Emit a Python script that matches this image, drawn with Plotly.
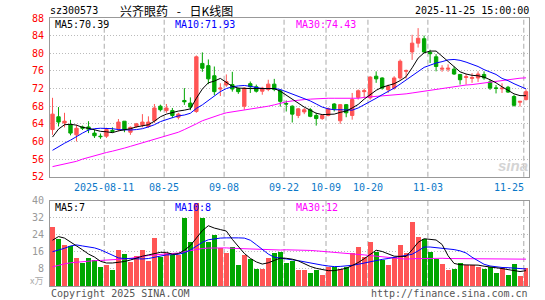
import plotly.graph_objects as go

# ---------------- data ----------------
dates = [
    "2025-07-29", "2025-07-30", "2025-07-31",
    "2025-08-01", "2025-08-04", "2025-08-05", "2025-08-06", "2025-08-07", "2025-08-08",
    "2025-08-11", "2025-08-12", "2025-08-13", "2025-08-14", "2025-08-15",
    "2025-08-18", "2025-08-19", "2025-08-20", "2025-08-21", "2025-08-22",
    "2025-08-25", "2025-08-26", "2025-08-27", "2025-08-28", "2025-08-29",
    "2025-09-01", "2025-09-02", "2025-09-03", "2025-09-04", "2025-09-05",
    "2025-09-08", "2025-09-09", "2025-09-10", "2025-09-11", "2025-09-12",
    "2025-09-15", "2025-09-16", "2025-09-17", "2025-09-18", "2025-09-19",
    "2025-09-22", "2025-09-23", "2025-09-24", "2025-09-25", "2025-09-26",
    "2025-09-29", "2025-09-30",
    "2025-10-09", "2025-10-10", "2025-10-13", "2025-10-14", "2025-10-15", "2025-10-16", "2025-10-17",
    "2025-10-20", "2025-10-21", "2025-10-22", "2025-10-23", "2025-10-24",
    "2025-10-27", "2025-10-28", "2025-10-29", "2025-10-30", "2025-10-31",
    "2025-11-03", "2025-11-04", "2025-11-05", "2025-11-06", "2025-11-07",
    "2025-11-10", "2025-11-11", "2025-11-12", "2025-11-13", "2025-11-14",
    "2025-11-17", "2025-11-18", "2025-11-19", "2025-11-20", "2025-11-21",
    "2025-11-24", "2025-11-25",
]

open_ = [62.7, 65.6, 64.2, 63.8, 61.5, 63.3, 63.3, 61.9, 61.2, 61.2,
         62.5, 62.9, 64.6, 62.1, 63.4, 63.7, 63.4, 64.7, 68.0, 67.0,
         67.0, 65.5, 69.3, 68.7, 66.8, 77.7, 77.2, 74.9, 71.9, 72.8,
         72.9, 72.0, 68.0, 73.1, 72.4, 71.4, 71.8, 73.0, 71.5, 68.6,
         68.0, 65.9, 66.7, 67.2, 65.9, 65.2, 65.9, 68.5, 64.7, 68.35,
         65.9, 70.0, 71.3, 69.9, 74.8, 74.4, 71.75, 72.1, 74.4, 75.9,
         80.3, 82.3, 83.3, 80.2, 79.2, 76.4, 76.4, 76.4, 75.2, 74.5,
         74.3, 74.4, 75.2, 73.5, 72.15, 71.95, 72.3, 70.2, 68.9, 69.5]
high = [69.9, 67.8, 66.5, 64.9, 63.8, 63.6, 64.6, 62.7, 61.8, 63.1,
        63.2, 65.1, 64.6, 63.4, 64.2, 66.2, 65.7, 68.5, 68.35, 68.5,
        67.6, 66.5, 72.1, 70.0, 79.5, 80.2, 78.6, 77.0, 73.2, 75.2,
        75.8, 72.2, 72.3, 73.6, 72.9, 72.4, 74.0, 74.2, 71.8, 69.3,
        68.2, 67.6, 67.6, 67.6, 66.5, 66.1, 67.7, 68.7, 68.5, 68.5,
        71.0, 71.8, 72.0, 74.8, 75.9, 74.55, 72.9, 74.8, 78.6, 76.3,
        84.2, 85.7, 84.0, 80.8, 79.8, 77.3, 77.5, 77.0, 75.3, 75.3,
        75.5, 75.9, 75.9, 74.0, 72.8, 73.2, 72.6, 70.6, 69.2, 71.8]
low = [61.5, 63.4, 63.2, 61.4, 60.0, 62.6, 61.9, 60.8, 60.6, 60.8,
       62.0, 62.3, 62.1, 61.5, 63.1, 63.2, 63.1, 64.2, 66.8, 66.5,
       65.3, 65.0, 68.3, 67.1, 66.5, 75.8, 73.0, 70.5, 70.3, 72.4,
       71.3, 70.8, 67.2, 71.0, 71.1, 70.6, 71.4, 71.4, 67.9, 66.8,
       64.3, 65.3, 66.2, 65.5, 63.6, 64.9, 65.7, 66.8, 64.0, 65.5,
       64.95, 69.5, 69.9, 69.5, 73.3, 71.75, 71.0, 71.75, 74.0, 74.25,
       78.5, 81.3, 80.0, 77.8, 75.9, 75.8, 75.8, 75.1, 72.9, 72.9,
       73.3, 73.5, 74.0, 71.7, 70.9, 71.0, 71.0, 67.9, 67.9, 69.3]
close = [66.2, 64.4, 64.6, 61.9, 63.0, 63.0, 62.8, 61.3, 61.1, 62.7,
         62.3, 64.4, 62.7, 63.2, 64.0, 64.4, 64.4, 67.6, 67.2, 67.6,
         65.9, 66.2, 69.0, 67.8, 79.2, 76.6, 74.2, 71.3, 72.1, 73.6,
         71.9, 71.3, 72.1, 72.4, 71.4, 72.1, 73.0, 71.8, 69.1, 68.5,
         66.2, 67.4, 67.2, 65.7, 65.2, 65.9, 67.4, 67.4, 68.35, 66.5,
         69.5, 71.5, 71.5, 74.6, 74.2, 72.1, 72.5, 74.4, 78.2, 76.1,
         82.3, 83.4, 80.3, 79.9, 77.0, 76.6, 76.6, 75.3, 74.0, 74.7,
         74.5, 75.3, 74.4, 72.1, 72.05, 72.1, 71.2, 68.2, 69.1, 71.3]

ma5 = [61.0, 62.8, 63.8, 63.9, 63.7, 63.2, 63.0, 62.6, 62.3, 62.2,
       62.0, 62.4, 62.6, 62.9, 63.3, 63.6, 63.8, 64.6, 65.6, 66.2,
       66.6, 66.9, 67.1, 67.4, 69.8, 71.9, 73.3, 73.7, 74.3, 73.4,
       72.5, 72.1, 72.0, 72.0, 72.0, 72.0, 72.1, 72.0, 71.4, 70.5,
       69.6, 68.6, 67.8, 67.1, 66.4, 66.1, 66.1, 66.2, 66.6, 66.9,
       67.6, 68.4, 69.6, 70.6, 71.6, 72.3, 72.7, 73.1, 73.8, 74.7,
       76.7, 78.9, 80.1, 80.5, 80.5, 79.3, 78.0, 76.8, 75.8, 75.3,
       75.0, 74.9, 74.6, 74.0, 73.3, 72.4, 71.6, 70.8, 70.4, 70.39]
ma10 = [58.0, 58.9, 59.6, 60.3, 61.2, 61.9, 62.6, 62.9, 63.0, 63.0,
        62.9, 62.7, 62.6, 62.6, 62.7, 62.9, 63.3, 63.8, 64.5, 65.0,
        65.4, 65.8, 66.0, 66.4, 67.5, 68.3, 69.3, 70.4, 71.3, 72.0,
        72.4, 72.6, 72.7, 72.5, 72.3, 72.0, 72.0, 72.0, 71.8, 71.3,
        70.8, 70.3, 69.8, 69.2, 68.5, 67.8, 67.4, 67.2, 67.2, 67.1,
        67.1, 67.6, 68.3, 69.0, 69.8, 70.6, 71.3, 72.1, 73.0, 74.0,
        74.9, 75.9, 76.8, 77.3, 77.8, 78.1, 78.5, 78.6, 78.4, 78.0,
        77.5, 77.0, 76.3, 75.7, 75.2, 74.3, 73.8, 73.1, 72.5, 71.93]
ma30 = [54.3, 54.6, 54.8, 55.1, 55.5, 56.0, 56.4, 56.8, 57.2, 57.5,
        57.8, 58.1, 58.5, 58.9, 59.3, 59.7, 60.1, 60.5, 60.8, 61.2,
        61.6, 62.1, 62.7, 63.3, 64.0, 64.7, 65.2, 65.7, 66.1, 66.5,
        66.7, 66.9, 67.1, 67.3, 67.5, 67.8, 68.0, 68.3, 68.7, 69.0,
        69.2, 69.4, 69.5, 69.6, 69.7, 69.8, 69.8, 69.8, 69.8, 69.8,
        69.8, 69.8, 70.0, 70.1, 70.2, 70.3, 70.4, 70.5, 70.6, 70.8,
        71.0, 71.2, 71.4, 71.6, 71.9, 72.1, 72.3, 72.4, 72.6, 72.8,
        72.9, 73.1, 73.3, 73.5, 73.7, 73.9, 74.1, 74.2, 74.35, 74.43]

volume = [27.8, 22.2, 19.2, 18.7, 13.4, 10.7, 13.1, 12.3, 8.8, 10.1,
          7.8, 17.0, 15.0, 11.2, 14.4, 17.0, 11.7, 22.7, 13.6, 15.5,
          14.7, 14.6, 31.8, 20.6, 38.9, 31.8, 20.8, 24.2, 17.8, 15.5,
          18.2, 10.1, 14.6, 12.6, 8.3, 8.3, 13.4, 15.5, 16.0, 10.7,
          11.8, 7.8, 7.8, 6.2, 7.8, 5.4, 8.8, 8.8, 8.3, 9.1,
          15.5, 18.4, 13.9, 20.8, 16.0, 12.3, 9.8, 13.9, 19.2, 15.8,
          30.1, 23.2, 22.2, 16.0, 13.0, 10.2, 7.8, 8.3, 10.7, 9.9,
          10.1, 9.1, 8.3, 9.1, 6.2, 8.6, 5.4, 10.2, 4.8, 8.6]
vma5 = [21.5, 23.2, 22.5, 20.8, 18.8, 17.0, 15.0, 13.6, 11.6, 10.8,
        10.8, 11.0, 11.5, 12.2, 13.2, 14.0, 14.6, 15.3, 15.8, 15.8,
        14.9, 15.2, 16.8, 19.0, 22.5, 26.0, 28.3, 27.2, 26.5, 25.8,
        21.9, 18.5, 15.3, 13.0, 11.3, 10.3, 10.9, 12.0, 13.1, 13.0,
        12.6, 11.8, 10.5, 9.2, 8.3, 7.6, 7.2, 7.2, 7.6, 8.3,
        9.6, 11.0, 12.8, 14.9, 16.8, 16.2, 15.2, 14.0, 13.9, 13.9,
        17.0, 20.5, 22.2, 22.0, 21.6, 19.5, 14.2, 10.6, 10.0, 9.9,
        9.9, 9.8, 9.3, 9.0, 8.6, 8.2, 7.7, 7.2, 6.8, 7.2]
vma10 = [16.1, 16.8, 17.7, 18.8, 19.3, 18.8, 18.4, 17.9, 17.0, 15.8,
         14.5, 13.2, 12.9, 12.8, 12.7, 12.7, 12.9, 13.4, 14.0, 14.6,
         14.7, 14.9, 15.6, 16.9, 18.7, 20.5, 21.7, 22.2, 22.5, 22.6,
         22.7, 22.6, 22.5, 21.5, 19.4, 17.1, 15.0, 13.5, 13.0, 12.6,
         12.3, 11.9, 11.3, 10.8, 10.2, 9.8, 9.4, 9.1, 9.2, 9.4,
         9.7, 10.2, 10.8, 11.5, 12.1, 12.5, 12.9, 13.4, 13.8, 14.3,
         14.9, 16.5, 18.3, 18.3, 18.0, 17.8, 17.4, 17.1, 16.5, 15.5,
         13.5, 11.7, 10.2, 9.4, 9.0, 8.7, 8.6, 8.5, 8.4, 8.0]
vma30 = [9.0, 9.8, 10.4, 10.9, 11.2, 11.5, 11.7, 11.9, 12.0, 12.1,
         12.3, 12.5, 12.7, 13.0, 13.5, 13.9, 14.3, 14.6, 14.8, 15.0,
         15.2, 15.5, 16.1, 16.6, 17.2, 17.6, 17.8, 17.9, 17.9, 17.9,
         17.7, 17.6, 17.4, 17.3, 17.1, 17.0, 16.9, 16.8, 16.9, 17.0,
         17.0, 16.9, 16.8, 16.7, 16.5, 16.3, 16.1, 15.9, 15.6, 15.3,
         15.0, 14.8, 14.6, 14.3, 14.0, 13.6, 13.3, 13.0, 12.8, 12.6,
         12.8, 12.9, 13.0, 13.0, 13.0, 13.0, 12.9, 12.9, 12.9, 12.9,
         12.9, 12.8, 12.8, 12.8, 12.8, 12.7, 12.7, 12.7, 12.6, 12.6]

tick_dates = ["2025-08-11", "2025-08-25", "2025-09-08", "2025-09-22",
              "2025-10-09", "2025-10-20", "2025-11-03", "2025-11-25"]
tick_text = ["2025-08-11", "08-25", "09-08", "09-22", "10-09", "10-20", "11-03", "11-25"]
price_ticks = [52, 56, 60, 64, 68, 72, 76, 80, 84, 88]
vol_ticks = [8, 16, 24, 32, 40]

# ---------------- styling ----------------
RED = "#ff5555"
GREEN = "#00a600"
MONO = "DejaVu Sans Mono"
CJK = "Noto Sans CJK SC"
W, H = 545, 300
L, R, T, B = 50, 529.5, 18.3, 285.7
P_BOT = 176.7   # bottom of price panel (px)
V_TOP = 200.7   # top of volume panel (px)


def fx(px):
    return (px - L) / (R - L)


def fy(py):
    return (B - py) / (B - T)


idx = list(range(len(dates)))
vol_colors = [RED if c >= o else GREEN for o, c in zip(open_, close)]

fig = go.Figure()
fig.add_trace(go.Candlestick(
    x=idx, open=open_, high=high, low=low, close=close,
    increasing=dict(line=dict(color=RED, width=1), fillcolor=RED),
    decreasing=dict(line=dict(color=GREEN, width=1), fillcolor=GREEN),
    whiskerwidth=0, showlegend=False, xaxis="x", yaxis="y"))
for ys, col in [(ma30, "#ff00ff"), (ma10, "#0000ff"), (ma5, "#000000")]:
    fig.add_trace(go.Scatter(x=idx, y=ys, mode="lines", line=dict(color=col, width=1),
                             showlegend=False, xaxis="x", yaxis="y"))

fig.add_trace(go.Bar(x=idx, y=volume, marker=dict(color=vol_colors, line=dict(width=0)),
                     width=0.83, showlegend=False, xaxis="x2", yaxis="y2"))
for ys, col in [(vma30, "#ff00ff"), (vma10, "#0000ff"), (vma5, "#000000")]:
    fig.add_trace(go.Scatter(x=idx, y=ys, mode="lines", line=dict(color=col, width=1),
                             showlegend=False, xaxis="x2", yaxis="y2"))

xr = [-0.42, len(dates) - 0.5]
axis_common = dict(showline=True, mirror=True, linecolor="#999999", linewidth=1,
                   zeroline=False)
fig.update_layout(
    width=W, height=H,
    margin=dict(l=L, r=W - R, t=T, b=H - B, autoexpand=False),
    paper_bgcolor="white", plot_bgcolor="white",
    bargap=0, boxgap=0.2,
    xaxis=dict(domain=[0, 1], anchor="y", range=xr, showticklabels=False, showgrid=False,
               rangeslider=dict(visible=False), **axis_common),
    xaxis2=dict(domain=[0, 1], anchor="y2", range=xr, showticklabels=False, showgrid=False,
                matches="x", **axis_common),
    yaxis=dict(domain=[fy(P_BOT), 1], anchor="x", range=[52, 88], tickvals=price_ticks,
               tickfont=dict(family=MONO, size=10, color="#ff0000"),
               ticks="outside", ticklen=3, tickcolor="rgba(0,0,0,0)",
               showgrid=True, gridcolor="#bbbbbb", griddash="1px,2px", gridwidth=1,
               **axis_common),
    yaxis2=dict(domain=[0, fy(V_TOP)], anchor="x2", range=[0, 40], tickvals=vol_ticks,
                tickfont=dict(family=MONO, size=10, color="#999999"),
                ticks="outside", ticklen=3, tickcolor="rgba(0,0,0,0)",
                showgrid=True, gridcolor="#bbbbbb", griddash="1px,2px", gridwidth=1,
                **axis_common),
    font=dict(family=MONO, size=10),
    hovermode=False,
)

# vertical dashed grid lines at labelled dates
shapes = []
for d in tick_dates:
    k = dates.index(d)
    for xref, yref in [("x", "y domain"), ("x2", "y2 domain")]:
        shapes.append(dict(type="line", xref=xref, yref=yref, x0=k - 0.37, x1=k - 0.37,
                           y0=0, y1=1, line=dict(color="#aaaaaa", width=1, dash="5px,3px"),
                           layer="below"))
fig.update_layout(shapes=shapes)

ann = []


def add(text, px, py, color="#000000", xanchor="left", size=10, family=MONO, **kw):
    ann.append(dict(text=text, x=fx(px), y=fy(py), xref="paper", yref="paper",
                    xanchor=xanchor, yanchor="middle", showarrow=False, borderpad=0,
                    font=dict(family=family, size=size, color=color), **kw))


# header
add("sz300573", 49, 11)
add("兴齐眼药\u2002 -\u2002 日K线图", 119, 10.5, family=CJK, size=12)
add("2025-11-25 15:00:00", 531, 11, xanchor="right")
# price MA labels
add("MA5:70.39", 54, 24.5)
add("MA10:71.93", 174, 24.5, color="#0000ff")
add("MA30:74.43", 295, 24.5, color="#ff00ff")
# volume MA labels
add("MA5:7", 54, 207)
add("MA10:8", 174, 207, color="#0000ff")
add("MA30:12", 295, 207, color="#ff00ff")
# date labels
for d, t in zip(tick_dates, tick_text):
    k = dates.index(d)
    xpix = L + (k - 0.37 - xr[0]) / (xr[1] - xr[0]) * (R - L)
    if d == tick_dates[-1]:
        add(t, 525, 187, color="#0a78c8", xanchor="right")
    else:
        add(t, xpix, 187, color="#0a78c8", xanchor="center")
# unit label and footer
add("x万", 44, 280, color="#aaaaaa", xanchor="right", family=CJK, size=9)
add("Copyright 2025 SINA.COM", 50, 293, color="#555555")
add("http://finance.sina.com.cn", 530, 293, color="#555555", xanchor="right")
# sina watermark
add("<b><i>sina</i></b>", 513, 165, color="#d4d4d4", xanchor="center",
    family="Liberation Sans", size=15)
fig.update_layout(annotations=ann)

fig.write_html("out.html")
